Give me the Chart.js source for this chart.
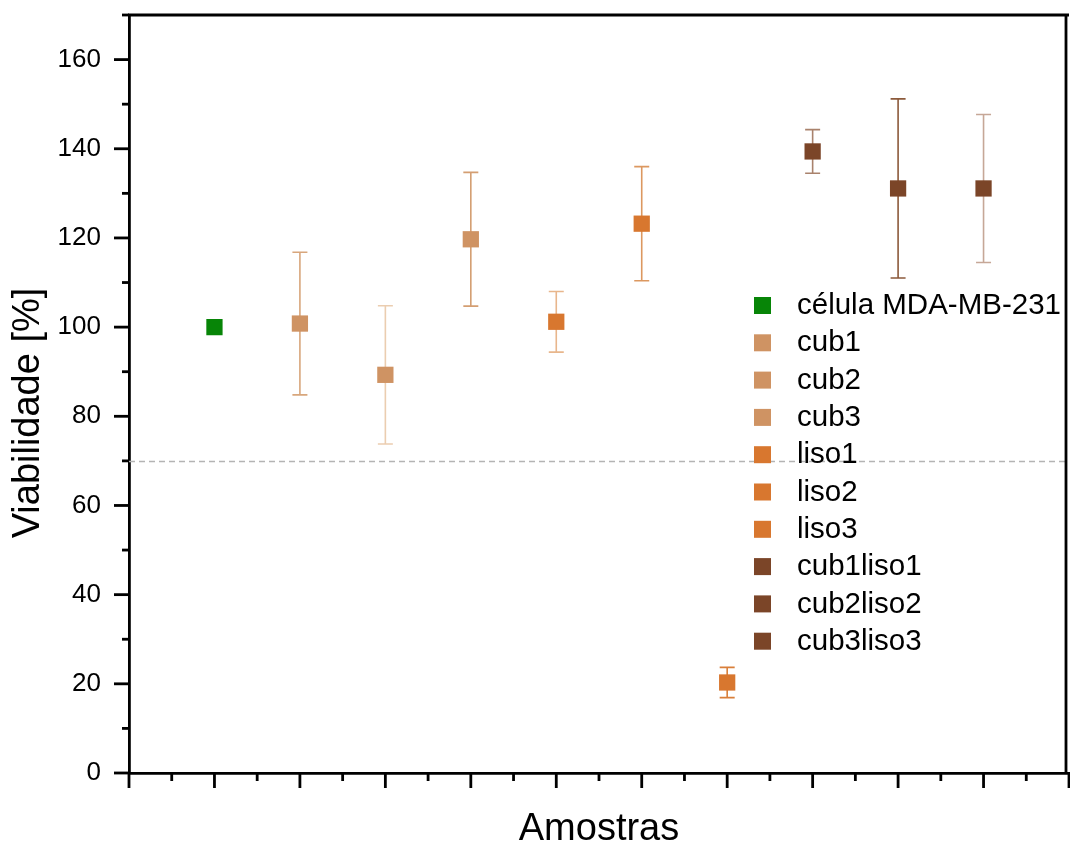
<!DOCTYPE html>
<html><head><meta charset="utf-8">
<script src="https://cdn.jsdelivr.net/npm/chart.js@4"></script>
<style>html,body{margin:0;padding:0;background:#fff;overflow:hidden}canvas{display:block}</style>
</head><body><canvas id="c" width="1070" height="843"></canvas>
<script>
// ---- data ----
const categories = ['célula MDA-MB-231','cub1','cub2','cub3','liso1','liso2','liso3','cub1liso1','cub2liso2','cub3liso3'];
const positions = [1,2,3,4,5,6,7,8,9,10];
const viability = [100, 100.8, 89.3, 119.7, 101.2, 123.2, 20.3, 139.4, 131.1, 131.1];
const errors = [0, 16, 15.5, 15, 6.8, 12.8, 3.4, 4.9, 20.1, 16.6];
const yTickValues = [0,20,40,60,80,100,120,140,160];
const threshold = [70];
const xTitle = 'Amostras';
const yTitle = 'Viabilidade [%]';

// ---- styles ----
const markerColors = ['#078507','#CF9363','#CF9363','#CF9363','#D8772F','#D8772F','#D8772F','#7B4528','#7B4528','#7B4528'];
const errorColors  = ['#078507','#D8A67C','#EBCDB0','#D49E72','#E8B68C','#DC9860','#D97F3A','#A9826C','#8C5A3B','#C6A797'];
const FONT = "'Liberation Sans', Arial, sans-serif";

const datasets = categories.map((name, i) => ({
  label: name,
  data: [{x: positions[i], y: viability[i]}],
  backgroundColor: markerColors[i],
  borderColor: markerColors[i],
  borderWidth: 0,
  pointStyle: 'rect',
  pointRadius: 11.5,
  pointHoverRadius: 11.5
}));

const decor = {
  id: 'decor',
  beforeDatasetsDraw(chart) {
    const {ctx, chartArea: a, scales: {x, y}} = chart;
    ctx.save();
    // threshold dashed line
    ctx.strokeStyle = '#B4B4B4';
    ctx.lineWidth = 1.3;
    ctx.setLineDash([6, 4]);
    threshold.forEach(t => {
      const py = Math.round(y.getPixelForValue(t)) + 0.5;
      ctx.beginPath(); ctx.moveTo(a.left, py); ctx.lineTo(a.right, py); ctx.stroke();
    });
    ctx.setLineDash([]);
    // error bars
    ctx.lineWidth = 1.6;
    positions.forEach((p, i) => {
      if (!errors[i]) return;
      const px = x.getPixelForValue(p);
      const yt = y.getPixelForValue(viability[i] + errors[i]);
      const yb = y.getPixelForValue(viability[i] - errors[i]);
      ctx.strokeStyle = errorColors[i];
      ctx.beginPath();
      ctx.moveTo(px, yt); ctx.lineTo(px, yb);
      ctx.moveTo(px - 7.5, yt); ctx.lineTo(px + 7.5, yt);
      ctx.moveTo(px - 7.5, yb); ctx.lineTo(px + 7.5, yb);
      ctx.stroke();
    });
    ctx.restore();
  },
  afterDraw(chart) {
    const {ctx, chartArea: a, scales: {x, y}} = chart;
    ctx.save();
    ctx.strokeStyle = '#000';
    ctx.lineWidth = 2.8;
    // y ticks (major every 20, minor every 10)
    for (let v = y.min; v <= y.max + 1e-6; v += 10) {
      const py = y.getPixelForValue(v);
      const len = (v % 20 === 0) ? 15 : 7;
      ctx.beginPath(); ctx.moveTo(a.left - len, py); ctx.lineTo(a.left, py); ctx.stroke();
    }
    // x ticks (major every 1, minor every 0.5)
    for (let v = x.min; v <= x.max + 1e-6; v += 0.5) {
      const px = x.getPixelForValue(v);
      const len = (Math.abs(v - Math.round(v)) < 1e-6) ? 15 : 8;
      ctx.beginPath(); ctx.moveTo(px, a.bottom); ctx.lineTo(px, a.bottom + len); ctx.stroke();
    }
    // top & right frame
    ctx.beginPath();
    ctx.moveTo(a.left - 1, a.top); ctx.lineTo(a.right, a.top);
    ctx.moveTo(a.right - 3, a.top); ctx.lineTo(a.right - 3, a.bottom);
    ctx.stroke();
    // y axis title (rotated), placed slightly below the centre as in the reference
    ctx.fillStyle = '#000';
    ctx.font = '38px ' + FONT;
    ctx.textAlign = 'center';
    ctx.textBaseline = 'middle';
    ctx.save();
    ctx.translate(29, (a.top + a.bottom) / 2 + 19);
    ctx.rotate(-Math.PI / 2);
    ctx.fillText(yTitle, 0, 0);
    ctx.restore();
    // legend
    ctx.font = '29.5px ' + FONT;
    ctx.textBaseline = 'middle';
    ctx.textAlign = 'left';
    chart.data.datasets.forEach((ds, i) => {
      const cy = 305 + i * 37.3;
      ctx.fillStyle = ds.backgroundColor;
      ctx.fillRect(754, cy - 8, 17, 17);
      ctx.fillStyle = '#000';
      ctx.fillText(ds.label, 797, cy + 1);
    });
    ctx.restore();
  }
};

new Chart(document.getElementById('c'), {
  type: 'scatter',
  data: { datasets },
  options: {
    responsive: false,
    maintainAspectRatio: false,
    devicePixelRatio: 1,
    animation: false,
    events: [],
    layout: { autoPadding: false, padding: { top: 15, right: 1, left: 0, bottom: 0 } },
    plugins: { legend: { display: false }, tooltip: { enabled: false } },
    scales: {
      x: {
        type: 'linear', min: 0, max: 11,
        grid: { display: false },
        border: { display: true, color: '#000', width: 2.8 },
        ticks: { stepSize: 1, callback: () => '', font: { size: 10 } },
        title: { display: true, text: xTitle, color: '#000',
                 font: { family: FONT, size: 38, lineHeight: 0.7 }, padding: { top: 0, bottom: 0 } },
        afterFit(s) { s.height = 70; s.paddingLeft = 0; s.paddingRight = 0; }
      },
      y: {
        type: 'linear', min: 0, max: 170,
        grid: { display: false },
        border: { display: true, color: '#000', width: 2.8 },
        ticks: {
          stepSize: 20, padding: 20, color: '#000',
          font: { family: FONT, size: 26 },
          callback: (v) => yTickValues.includes(v) ? String(v) : ''
        },
        afterBuildTicks(s) { s.ticks = yTickValues.map(v => ({value: v})); },
        title: { display: false },
        afterFit(s) { s.width = 129; s.paddingTop = 0; s.paddingBottom = 0; }
      }
    }
  },
  plugins: [decor]
});
</script></body></html>
